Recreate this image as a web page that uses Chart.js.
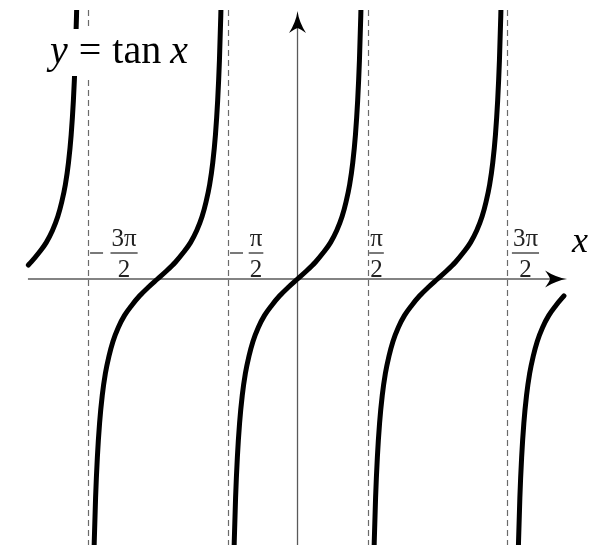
<!DOCTYPE html>
<html>
<head>
<meta charset="utf-8">
<script src="https://cdn.jsdelivr.net/npm/chart.js@4/dist/chart.umd.min.js"></script>
<style>
html,body{margin:0;padding:0;background:#fff;overflow:hidden;}
#wrap{width:596px;height:545px;}
.pre{position:absolute;left:-9999px;top:0;font-family:"Liberation Serif";}
</style>
</head>
<body>
<span class="pre">a</span><span class="pre" style="font-style:italic">a</span>
<div id="wrap"><canvas id="c" width="596" height="545"></canvas></div>
<script>
// ---- data (x in radians, y in function units) ----
const branchLeftX  = [-6.04,-5.98,-5.80,-5.64,-5.50,-5.38,-5.29,-5.21,-5.14,-5.08,-5.03,-4.99,-4.96,-4.945];
const branchLeftY  = [0.35,0.42,0.66,0.91,1.21,1.56,1.93,2.36,2.91,3.60,4.46,5.47,6.58,7.32];

const branchNegPiX = [-4.577,-4.562,-4.532,-4.492,-4.442,-4.382,-4.312,-4.232,-4.142,-4.022,-3.882,-3.722,-3.542,-3.342,-3.142,-2.942,-2.742,-2.562,-2.402,-2.262,-2.142,-2.052,-1.972,-1.902,-1.842,-1.792,-1.752,-1.722,-1.707];
const branchNegPiY = [-7.32,-6.58,-5.47,-4.46,-3.60,-2.91,-2.36,-1.93,-1.56,-1.21,-0.91,-0.66,-0.42,-0.20,0,0.20,0.42,0.66,0.91,1.21,1.56,1.93,2.36,2.91,3.60,4.46,5.47,6.58,7.32];

const branchZeroX  = [-1.435,-1.42,-1.39,-1.35,-1.30,-1.24,-1.17,-1.09,-1.0,-0.88,-0.74,-0.58,-0.4,-0.2,0,0.2,0.4,0.58,0.74,0.88,1.0,1.09,1.17,1.24,1.30,1.35,1.39,1.42,1.435];
const branchZeroY  = [-7.32,-6.58,-5.47,-4.46,-3.60,-2.91,-2.36,-1.93,-1.56,-1.21,-0.91,-0.66,-0.42,-0.20,0,0.20,0.42,0.66,0.91,1.21,1.56,1.93,2.36,2.91,3.60,4.46,5.47,6.58,7.32];

const branchPosPiX = [1.707,1.722,1.752,1.792,1.842,1.902,1.972,2.052,2.142,2.262,2.402,2.562,2.742,2.942,3.142,3.342,3.542,3.722,3.882,4.022,4.142,4.232,4.312,4.382,4.442,4.492,4.532,4.562,4.577];
const branchPosPiY = [-7.32,-6.58,-5.47,-4.46,-3.60,-2.91,-2.36,-1.93,-1.56,-1.21,-0.91,-0.66,-0.42,-0.20,0,0.20,0.42,0.66,0.91,1.21,1.56,1.93,2.36,2.91,3.60,4.46,5.47,6.58,7.32];

const branchRightX = [4.945,4.96,4.99,5.03,5.08,5.14,5.21,5.29,5.38,5.50,5.64,5.80,5.98];
const branchRightY = [-7.32,-6.58,-5.47,-4.46,-3.60,-2.91,-2.36,-1.93,-1.56,-1.21,-0.91,-0.66,-0.42];

const asymptotes     = [-4.712, -1.571, 1.571, 4.712];
const tickSigns      = ['\u2212', '\u2212', '', ''];
const tickNumerators = ['3\u03C0', '\u03C0', '\u03C0', '3\u03C0'];
const tickDenoms     = ['2', '2', '2', '2'];
const axisXStart = -6.05, axisXTip = 6.05;   // x-axis extent
const axisYTip = 6.7;                         // y-axis arrow tip
const titleParts = ['y', '=', 'tan', 'x'];
const xAxisName = 'x';

const X_MIN = -6.677, X_MAX = 6.699, Y_MIN = -6.65, Y_MAX = 6.725;

const SERIF = '"Liberation Serif", "DejaVu Serif", serif';

function pts(xs, ys){ return xs.map((x,i)=>({x:x, y:ys[i]})); }
function ds(xs, ys){
  return {data: pts(xs, ys), showLine:true, borderColor:'#000', borderWidth:5,
          pointRadius:0, fill:false, cubicInterpolationMode:'monotone', borderCapStyle:'round', borderJoinStyle:'round'};
}

function drawArrow(ctx, tx, ty, ang){
  ctx.save();
  ctx.translate(tx, ty);
  ctx.rotate(ang);
  ctx.beginPath();
  ctx.moveTo(0,0);
  ctx.quadraticCurveTo(-11,-1.5,-22,-8.5);
  ctx.quadraticCurveTo(-18,-3,-17,0);
  ctx.quadraticCurveTo(-18,3,-22,8.5);
  ctx.quadraticCurveTo(-11,1.5,0,0);
  ctx.closePath();
  ctx.fillStyle = '#000';
  ctx.fill();
  ctx.restore();
}

const decor = {
  id: 'decor',
  beforeDraw(chart){
    const ctx = chart.ctx;
    ctx.save();
    ctx.fillStyle = '#fff';
    ctx.fillRect(0,0,chart.width,chart.height);
    ctx.restore();
  },
  beforeDatasetsDraw(chart){
    const ctx = chart.ctx, xs = chart.scales.x, ys = chart.scales.y, ca = chart.chartArea;
    const y0 = ys.getPixelForValue(0), x0 = xs.getPixelForValue(0);
    ctx.save();
    // asymptotes
    ctx.strokeStyle = '#6a6a6a';
    ctx.lineWidth = 1.2;
    ctx.setLineDash([6,4]);
    asymptotes.forEach(a=>{
      const px = Math.round(xs.getPixelForValue(a)) + 0.5;
      ctx.beginPath(); ctx.moveTo(px, ca.top); ctx.lineTo(px, ca.bottom); ctx.stroke();
    });
    ctx.setLineDash([]);
    // axes
    ctx.strokeStyle = '#5a5a5a';
    ctx.lineWidth = 1.3;
    const xa = xs.getPixelForValue(axisXStart), xt = xs.getPixelForValue(axisXTip);
    ctx.beginPath(); ctx.moveTo(xa, y0); ctx.lineTo(xt - 12, y0); ctx.stroke();
    const yt = ys.getPixelForValue(axisYTip);
    ctx.beginPath(); ctx.moveTo(x0, ca.bottom); ctx.lineTo(x0, yt + 12); ctx.stroke();
    drawArrow(ctx, xt, y0, 0);
    drawArrow(ctx, x0, yt, -Math.PI/2);
    // tick labels (fractions)
    const offs = [36.5, 28.5, 9, 18];
    ctx.fillStyle = '#222';
    ctx.font = '25px ' + SERIF;
    ctx.textBaseline = 'alphabetic';
    asymptotes.forEach((a,i)=>{
      const ax = xs.getPixelForValue(a);
      const cx = ax + offs[i];
      const nw = ctx.measureText(tickNumerators[i]).width;
      const bw = nw + 2;
      const barY = y0 - 26;
      ctx.textAlign = 'center';
      ctx.fillText(tickNumerators[i], cx, barY - 7);
      ctx.fillText(tickDenoms[i], cx, y0 - 2);
      ctx.fillRect(cx - bw/2, barY - 0.6, bw, 1.2);
      if (tickSigns[i]) {
        ctx.fillRect(ax + 2.5, barY - 0.6, 13, 1.2);
      }
    });
    // axis name
    ctx.fillStyle = '#000';
    ctx.textAlign = 'left';
    ctx.font = 'italic 36px ' + SERIF;
    ctx.fillText(xAxisName, 572, y0 - 27);
    ctx.restore();
  },
  afterDatasetsDraw(chart){
    const ctx = chart.ctx;
    ctx.save();
    ctx.fillStyle = '#fff';
    ctx.fillRect(46, 29, 146, 47);
    ctx.fillStyle = '#000';
    ctx.textBaseline = 'alphabetic';
    ctx.textAlign = 'left';
    const base = 63;
    const it = 'italic 40px ' + SERIF;
    const rm = '40px ' + SERIF;
    let x = 50;
    ctx.font = it; ctx.fillText(titleParts[0], x, base); x += ctx.measureText(titleParts[0]).width + 11;
    ctx.font = rm; ctx.fillText(titleParts[1], x, base); x += ctx.measureText(titleParts[1]).width + 11;
    ctx.fillText(titleParts[2], x, base); x += ctx.measureText(titleParts[2]).width + 9;
    ctx.font = it; ctx.fillText(titleParts[3], x, base);
    ctx.restore();
  }
};

function build(){
  new Chart(document.getElementById('c'), {
    type: 'scatter',
    data: { datasets: [
      ds(branchLeftX, branchLeftY),
      ds(branchNegPiX, branchNegPiY),
      ds(branchZeroX, branchZeroY),
      ds(branchPosPiX, branchPosPiY),
      ds(branchRightX, branchRightY)
    ]},
    options: {
      responsive: false,
      animation: false,
      layout: { padding: { top: 10, left: 0, right: 0, bottom: 0 } },
      plugins: { legend: { display: false }, tooltip: { enabled: false } },
      scales: {
        x: { type: 'linear', min: X_MIN, max: X_MAX, display: false },
        y: { type: 'linear', min: Y_MIN, max: Y_MAX, display: false }
      }
    },
    plugins: [decor]
  });
}

const loads = [
  document.fonts.load('25px "Liberation Serif"'),
  document.fonts.load('italic 36px "Liberation Serif"')
];
Promise.all(loads).then(build, build);
</script>
</body>
</html>
